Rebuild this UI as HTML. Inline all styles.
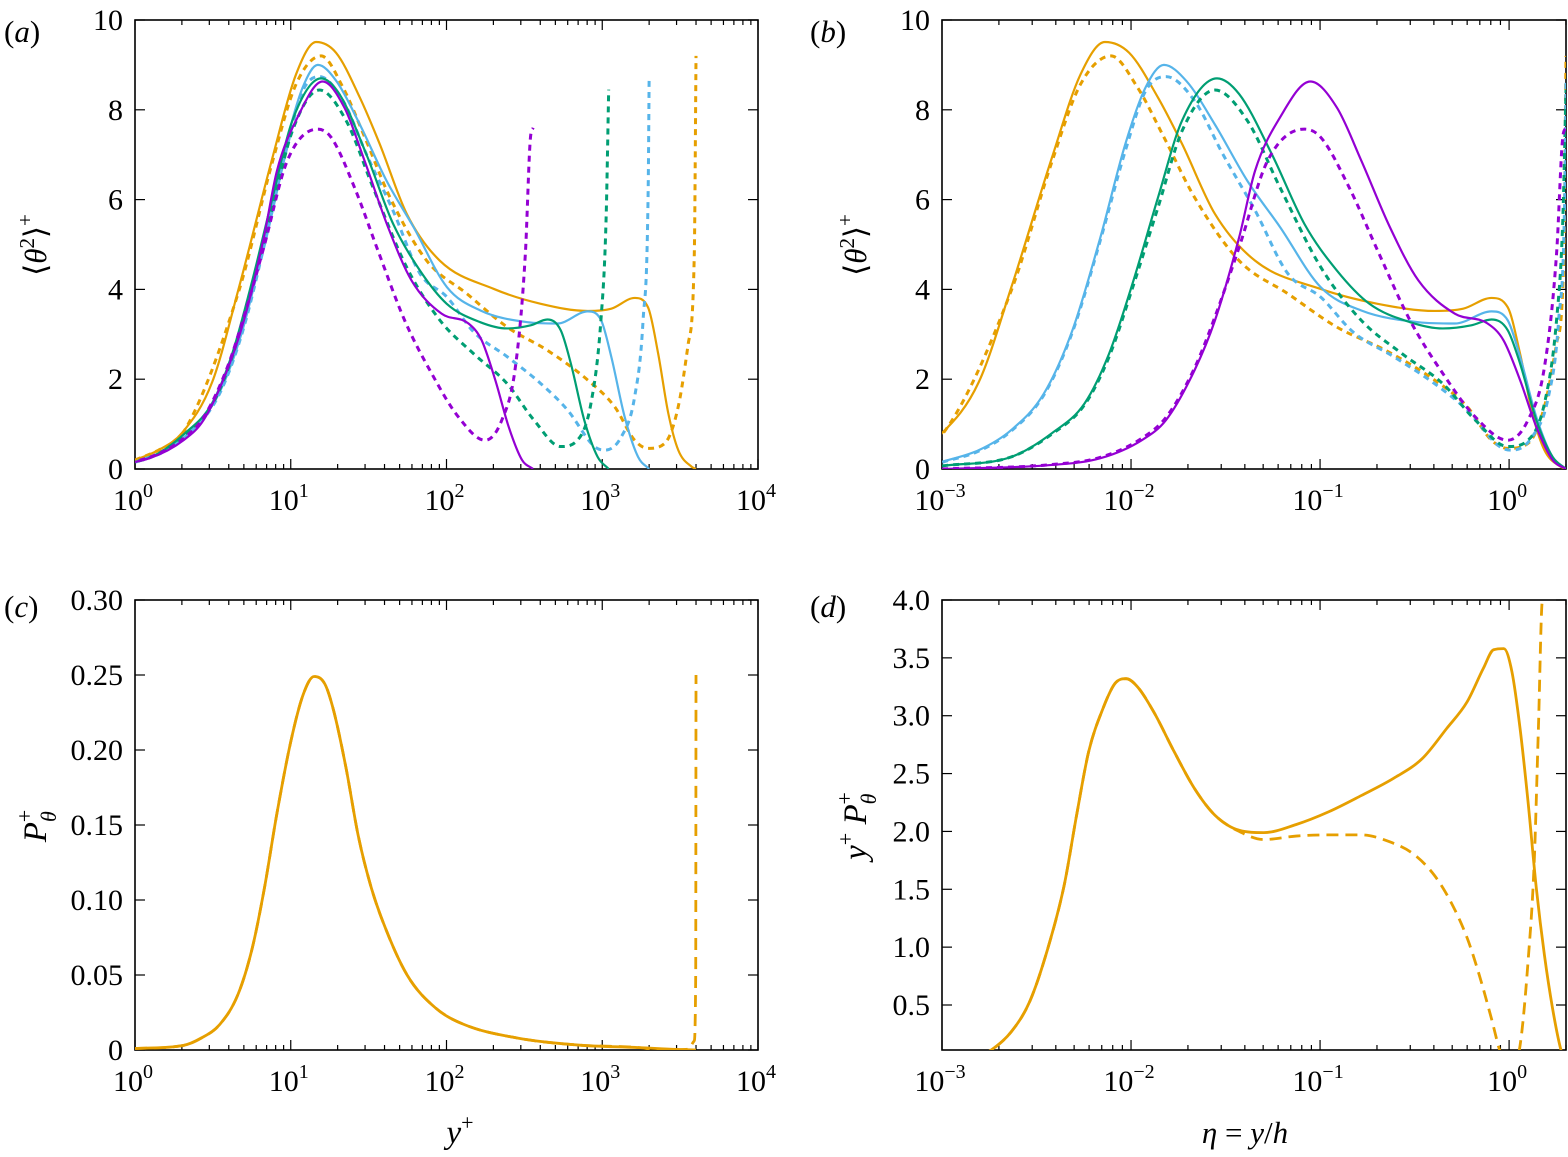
<!DOCTYPE html>
<html><head><meta charset="utf-8">
<style>
html,body{margin:0;padding:0;background:#fff;}
svg{display:block;}
text{font-family:"Liberation Serif","Times New Roman",serif;}
</style></head>
<body>
<svg id="fig" width="1568" height="1157" viewBox="0 0 1568 1157" xmlns="http://www.w3.org/2000/svg" font-family="Liberation Serif, serif">
  <defs>
    <clipPath id="clipA"><rect x="135" y="20" width="623" height="449"/></clipPath>
    <clipPath id="clipB"><rect x="942" y="20" width="624" height="449"/></clipPath>
    <clipPath id="clipC"><rect x="135" y="600" width="623" height="450"/></clipPath>
    <clipPath id="clipD"><rect x="942" y="600" width="624" height="450"/></clipPath>
  </defs>
  <text font-family="Liberation Serif, serif" x="4" y="42" font-size="31">(<tspan font-style="italic">a</tspan>)</text>
  <text font-family="Liberation Serif, serif" x="810" y="42" font-size="31">(<tspan font-style="italic">b</tspan>)</text>
  <text font-family="Liberation Serif, serif" x="4" y="617" font-size="31">(<tspan font-style="italic">c</tspan>)</text>
  <text font-family="Liberation Serif, serif" x="810" y="617" font-size="31">(<tspan font-style="italic">d</tspan>)</text>

  <text font-family="Liberation Serif, serif" transform="translate(46,245) rotate(-90)" text-anchor="middle" font-size="31">⟨<tspan font-style="italic">θ</tspan><tspan font-size="21" dy="-12">2</tspan><tspan dy="12">⟩</tspan><tspan font-size="21" dy="-14">+</tspan></text>
  <text font-family="Liberation Serif, serif" transform="translate(866,245) rotate(-90)" text-anchor="middle" font-size="31">⟨<tspan font-style="italic">θ</tspan><tspan font-size="21" dy="-12">2</tspan><tspan dy="12">⟩</tspan><tspan font-size="21" dy="-14">+</tspan></text>
  <text font-family="Liberation Serif, serif" transform="translate(46,826) rotate(-90)" text-anchor="middle" font-size="33"><tspan font-style="italic">P</tspan><tspan font-size="22" font-style="italic" dy="10">θ</tspan><tspan font-size="22" dx="-11" dy="-24">+</tspan></text>
  <text font-family="Liberation Serif, serif" transform="translate(866,826) rotate(-90)" text-anchor="middle" font-size="33"><tspan font-style="italic">y</tspan><tspan font-size="22" dy="-13">+</tspan><tspan dy="13"> </tspan><tspan font-style="italic">P</tspan><tspan font-size="22" font-style="italic" dy="10">θ</tspan><tspan font-size="22" dx="-11" dy="-24">+</tspan></text>

  <text font-family="Liberation Serif, serif" x="460" y="1143" text-anchor="middle" font-size="33"><tspan font-style="italic">y</tspan><tspan font-size="22" dy="-13">+</tspan></text>
  <text font-family="Liberation Serif, serif" x="1245" y="1143" text-anchor="middle" font-size="31"><tspan font-style="italic">η</tspan> = <tspan font-style="italic">y</tspan>/<tspan font-style="italic">h</tspan></text>
  <g id="content"></g>
</svg>
<script>
// ---------- data (panels a & b): log10(eta) and <theta^2>+ ----------
const reTau = { purple: 180, green: 550, blue: 1000, orange: 2000 };
const colors = { purple: "#9400D3", green: "#009E73", blue: "#56B4E9", orange: "#E69F00" };

const orangeSolidL = [-3.301,-3.15,-3,-2.805,-2.633,-2.418,-2.267,-2.138,-2.01,-1.857,-1.73,-1.556,-1.344,-0.997,-0.696,-0.394,-0.243,-0.093,-0.007,0.058,0.123,0.187,0.273,0.301];
const orangeSolidV = [0.2,0.42,0.8,1.94,4.05,6.94,8.79,9.51,9.27,8.27,7.24,5.68,4.64,4.01,3.68,3.52,3.57,3.81,3.6,2.57,1.24,0.42,0.05,0];
const orangeDashL = [-3.301,-3.15,-3,-2.633,-2.418,-2.267,-2.106,-1.966,-1.826,-1.664,-1.428,-1.169,-0.911,-0.652,-0.394,-0.222,-0.093,-0.007,0.1,0.187,0.251,0.29,0.301];
const orangeDashV = [0.2,0.42,0.76,3.98,6.85,8.57,9.2,8.5,7.39,6.05,4.64,3.9,3.16,2.64,1.98,1.39,0.64,0.46,0.57,1.39,2.79,4.79,9.2];

const blueSolidL = [-2.999,-2.805,-2.633,-2.461,-2.31,-2.162,-2.03,-1.923,-1.826,-1.707,-1.556,-1.385,-1.212,-0.997,-0.782,-0.48,-0.287,-0.093,-0.007,0.058,0.144,0.23,0.301];
const blueSolidV = [0.16,0.42,0.87,1.68,3.09,5.16,7.24,8.5,9.0,8.64,7.67,6.42,5.39,4.05,3.53,3.27,3.24,3.51,3.31,2.5,1.16,0.27,0];
const blueDashL = [-2.999,-2.805,-2.633,-2.461,-2.31,-2.162,-2.03,-1.923,-1.815,-1.664,-1.514,-1.344,-1.17,-0.997,-0.825,-0.61,-0.394,-0.222,-0.05,0.015,0.123,0.208,0.262,0.295,0.301];
const blueDashV = [0.15,0.4,0.85,1.65,3.05,5.1,7.09,8.42,8.74,8.2,7.01,5.76,4.35,3.83,3.05,2.5,1.9,1.31,0.5,0.42,0.72,1.61,3.31,6.27,8.7];

const greenSolidL = [-2.999,-2.633,-2.418,-2.246,-2.116,-1.987,-1.857,-1.73,-1.545,-1.428,-1.255,-1.083,-0.911,-0.739,-0.524,-0.351,-0.2,-0.093,-0.007,0.058,0.144,0.23,0.301];
const greenSolidV = [0.07,0.27,0.8,1.46,2.57,4.2,6.05,7.76,8.7,8.35,7.01,5.46,4.42,3.68,3.27,3.13,3.2,3.33,3.09,2.35,1.09,0.27,0];
const greenDashL = [-2.999,-2.633,-2.418,-2.246,-2.116,-1.987,-1.857,-1.73,-1.556,-1.385,-1.212,-0.997,-0.782,-0.567,-0.351,-0.179,-0.007,0.1,0.187,0.251,0.284,0.301];
const greenDashV = [0.07,0.27,0.78,1.43,2.5,4.1,5.83,7.53,8.44,7.76,6.27,4.5,3.31,2.57,1.9,1.09,0.5,0.64,1.46,3.31,5.53,8.45];

const purpleSolidL = [-3,-2.418,-2.162,-1.944,-1.815,-1.664,-1.556,-1.428,-1.344,-1.212,-1.051,-0.911,-0.782,-0.631,-0.48,-0.287,-0.114,-0.03,0.058,0.144,0.23,0.301];
const purpleSolidV = [0,0.09,0.24,0.64,1.09,2.2,3.31,5.16,6.64,7.83,8.63,8.05,6.87,5.39,4.2,3.46,3.24,2.87,1.98,0.94,0.2,0];
const purpleDashL = [-3,-2.418,-2.162,-1.944,-1.815,-1.664,-1.556,-1.428,-1.277,-1.083,-0.997,-0.846,-0.696,-0.524,-0.351,-0.179,-0.007,0.1,0.187,0.251,0.284,0.301];
const purpleDashV = [0,0.1,0.26,0.68,1.15,2.25,3.39,4.94,6.87,7.57,7.39,6.27,4.87,3.31,2.13,1.16,0.64,1.09,2.27,4.79,7.39,7.6];

// ---------- data (panel c): log10(y+) and P_theta+ (Re_tau = 2000) ----------
const prodSolidLogY = [0,0.308,0.426,0.544,0.661,0.753,0.831,0.91,1.001,1.08,1.15,1.219,1.276,1.355,1.433,1.512,1.59,1.747,1.93,2.113,2.454,2.846,3.238,3.474,3.602];
const prodSolidV = [0.001,0.003,0.008,0.017,0.037,0.068,0.108,0.157,0.206,0.237,0.249,0.244,0.226,0.188,0.143,0.11,0.086,0.05,0.028,0.017,0.008,0.0033,0.0016,0.0004,0];
const prodDashLogY = [0,0.308,0.426,0.544,0.661,0.753,0.831,0.91,1.001,1.08,1.15,1.219,1.276,1.355,1.433,1.512,1.59,1.747,1.93,2.113,2.454,2.846,3.238,3.4,3.55,3.59,3.6,3.602];
const prodDashV = [0.001,0.003,0.008,0.017,0.037,0.068,0.108,0.157,0.206,0.237,0.249,0.244,0.226,0.188,0.143,0.11,0.086,0.05,0.028,0.017,0.008,0.0033,0.0016,-0.0005,0.0005,0.006,0.05,0.25];

// ---------- data (panel d): log10(eta) and y+ P_theta+ ----------
const premSolidL = [-2.9,-2.741,-2.633,-2.536,-2.44,-2.353,-2.288,-2.224,-2.149,-2.084,-2.026,-1.966,-1.879,-1.772,-1.664,-1.556,-1.428,-1.298,-1.126,-0.954,-0.782,-0.61,-0.459,-0.33,-0.222,-0.136,-0.082,-0.028,0.015,0.058,0.1,0.144,0.187,0.23,0.273,0.301];
const premSolidV = [0,0.11,0.27,0.53,0.99,1.54,2.14,2.69,3.06,3.28,3.32,3.25,3.03,2.69,2.37,2.14,2.01,1.99,2.06,2.17,2.31,2.46,2.63,2.89,3.12,3.41,3.57,3.58,3.38,2.89,2.26,1.51,0.93,0.47,0.12,0];
const premDashL = [-2.9,-2.741,-2.633,-2.536,-2.44,-2.353,-2.288,-2.224,-2.149,-2.084,-2.026,-1.966,-1.879,-1.772,-1.664,-1.556,-1.428,-1.298,-1.126,-0.954,-0.782,-0.631,-0.502,-0.395,-0.308,-0.222,-0.158,-0.093,-0.05,0,0.058,0.1,0.133,0.155,0.176,0.22,0.301];
const premDashV = [0,0.11,0.27,0.53,0.99,1.54,2.14,2.69,3.06,3.28,3.32,3.25,3.03,2.69,2.37,2.14,2.0,1.93,1.96,1.97,1.97,1.91,1.80,1.62,1.39,1.08,0.76,0.38,0.11,-0.1,0.15,0.87,1.74,2.89,4.0,10,1000];

// ---------- tick labels ----------
const ticksA_y = [0,2,4,6,8,10];
const ticksC_y = [0,0.05,0.10,0.15,0.20,0.25,0.30];
const ticksC_yLabels = ["0","0.05","0.10","0.15","0.20","0.25","0.30"];
const ticksD_y = [0.5,1.0,1.5,2.0,2.5,3.0,3.5,4.0];
const ticksD_yLabels = ["0.5","1.0","1.5","2.0","2.5","3.0","3.5","4.0"];
const decadesYplus = [0,1,2,3,4];
const decadesEta = [-3,-2,-1,0];

// ---------- layout ----------
const NS = "http://www.w3.org/2000/svg";
const FONT = "Liberation Serif, serif";
const root = document.getElementById("content");
const panels = {
  a: {x0:135, x1:758, y0:20, y1:469, lmin:0, lmax:4, vmin:0, vmax:10, clip:"clipA"},
  b: {x0:942, x1:1566, y0:20, y1:469, lmin:-3, lmax:Math.log10(2), vmin:0, vmax:10, clip:"clipB"},
  c: {x0:135, x1:758, y0:600, y1:1050, lmin:0, lmax:4, vmin:0, vmax:0.3, clip:"clipC"},
  d: {x0:942, x1:1566, y0:600, y1:1050, lmin:-3, lmax:Math.log10(2), vmin:4-450/115.714, vmax:4, clip:"clipD"}
};
function px(p, l) { return p.x0 + (l - p.lmin) / (p.lmax - p.lmin) * (p.x1 - p.x0); }
function py(p, v) { return p.y1 - (v - p.vmin) / (p.vmax - p.vmin) * (p.y1 - p.y0); }

function el(tag, attrs, parent) {
  const e = document.createElementNS(NS, tag);
  for (const k in attrs) e.setAttribute(k, attrs[k]);
  (parent || root).appendChild(e);
  return e;
}

function monoPath(pts) {
  const n = pts.length;
  if (n < 2) return "";
  const d = [], m = [];
  for (let i = 0; i < n - 1; i++) d.push((pts[i+1][1] - pts[i][1]) / (pts[i+1][0] - pts[i][0]));
  m[0] = d[0]; m[n-1] = d[n-2];
  for (let i = 1; i < n - 1; i++) m[i] = (d[i-1] * d[i] <= 0) ? 0 : (d[i-1] + d[i]) / 2;
  for (let i = 0; i < n - 1; i++) {
    if (d[i] === 0) { m[i] = 0; m[i+1] = 0; continue; }
    const a = m[i] / d[i], b = m[i+1] / d[i], s = a*a + b*b;
    if (s > 9) { const t = 3 / Math.sqrt(s); m[i] = t*a*d[i]; m[i+1] = t*b*d[i]; }
  }
  let s = "M" + pts[0][0].toFixed(2) + "," + pts[0][1].toFixed(2);
  for (let i = 0; i < n - 1; i++) {
    const h = pts[i+1][0] - pts[i][0];
    s += " C" + (pts[i][0] + h/3).toFixed(2) + "," + (pts[i][1] + m[i]*h/3).toFixed(2) + " " +
         (pts[i+1][0] - h/3).toFixed(2) + "," + (pts[i+1][1] - m[i+1]*h/3).toFixed(2) + " " +
         pts[i+1][0].toFixed(2) + "," + pts[i+1][1].toFixed(2);
  }
  return s;
}

function drawFrame(key, p) {
  const g = el("g", {});
  
  
  const dec0 = Math.floor(p.lmin), dec1 = Math.ceil(p.lmax);
  for (let dcd = dec0; dcd <= dec1; dcd++) {
    for (let k = 1; k <= 9; k++) {
      const l = dcd + Math.log10(k);
      if (l < p.lmin - 1e-9 || l > p.lmax + 1e-9) continue;
      const x = px(p, l), len = (k === 1) ? 10 : 5;
      el("line", {x1:x, y1:p.y1, x2:x, y2:p.y1 - len, stroke:"#000", "stroke-width":1.2}, g);
      el("line", {x1:x, y1:p.y0, x2:x, y2:p.y0 + len, stroke:"#000", "stroke-width":1.2}, g);
    }
  }
  el("rect", {x:p.x0, y:p.y0, width:p.x1 - p.x0, height:p.y1 - p.y0, fill:"none", stroke:"#000", "stroke-width":1.6}, g);
  return g;
}

function drawYTicks(key, p, vals, labels) {
  const g = el("g", {});
  
  
  vals.forEach((v, i) => {
    const y = py(p, v);
    el("line", {x1:p.x0, y1:y, x2:p.x0 + 10, y2:y, stroke:"#000", "stroke-width":1.2}, g);
    el("line", {x1:p.x1, y1:y, x2:p.x1 - 10, y2:y, stroke:"#000", "stroke-width":1.2}, g);
    const t = el("text", {x:p.x0 - 12, y:y + 10, "text-anchor":"end", "font-size":30, "font-family":FONT}, g);
    
    
    t.textContent = labels ? labels[i] : String(v);
  });
}

function drawXTicks(key, p, decs) {
  const g = el("g", {});
  
  
  decs.forEach(dcd => {
    const x = px(p, dcd);
    const t = el("text", {x:x - 2, y:p.y1 + 41, "text-anchor":"middle", "font-size":30, "font-family":FONT}, g);
    
    
    t.textContent = "10";
    const sup = el("tspan", {"font-size":20, dy:-13}, t);
    sup.textContent = (dcd < 0 ? "\u2212" + (-dcd) : String(dcd));
  });
}

function drawCurve(name, p, ls, vs, color, dashed, width, dash, toL) {
  const pts = ls.map((l, i) => [px(p, toL ? toL(l) : l), py(p, vs[i])]);
  const path = el("path", {d:monoPath(pts), fill:"none", stroke:color, "stroke-width":width,
    "clip-path":"url(#" + p.clip + ")", "stroke-linejoin":"round"});
  if (dashed) path.setAttribute("stroke-dasharray", dash);
  
  
}

for (const k in panels) drawFrame(k, panels[k]);
drawYTicks("a", panels.a, ticksA_y);
drawYTicks("b", panels.b, ticksA_y);
drawYTicks("c", panels.c, ticksC_y, ticksC_yLabels);
drawYTicks("d", panels.d, ticksD_y, ticksD_yLabels);
drawXTicks("a", panels.a, decadesYplus);
drawXTicks("b", panels.b, decadesEta);
drawXTicks("c", panels.c, decadesYplus);
drawXTicks("d", panels.d, decadesEta);

const series = [
  ["orange", orangeSolidL, orangeSolidV, false], ["orange", orangeDashL, orangeDashV, true],
  ["blue", blueSolidL, blueSolidV, false], ["blue", blueDashL, blueDashV, true],
  ["green", greenSolidL, greenSolidV, false], ["green", greenDashL, greenDashV, true],
  ["purple", purpleSolidL, purpleSolidV, false], ["purple", purpleDashL, purpleDashV, true]
];
series.forEach(([c, L, V, dashed]) => {
  const re = reTau[c];
  const tag = c + (dashed ? "-dashed" : "-solid");
  drawCurve("curve-a-" + tag, panels.a, L, V, colors[c], dashed, dashed ? 3 : 2.2, "6 5", l => l + Math.log10(re));
  drawCurve("curve-b-" + tag, panels.b, L, V, colors[c], dashed, dashed ? 3 : 2.2, "6 5", null);
});

drawCurve("curve-c-orange-dashed", panels.c, prodDashLogY, prodDashV, colors.orange, true, 2.8, "12 7", null);
drawCurve("curve-c-orange-solid", panels.c, prodSolidLogY, prodSolidV, colors.orange, false, 2.8, "", null);
drawCurve("curve-d-orange-dashed", panels.d, premDashL, premDashV, colors.orange, true, 2.8, "12 7", null);
drawCurve("curve-d-orange-solid", panels.d, premSolidL, premSolidV, colors.orange, false, 2.8, "", null);
</script>
</body></html>
